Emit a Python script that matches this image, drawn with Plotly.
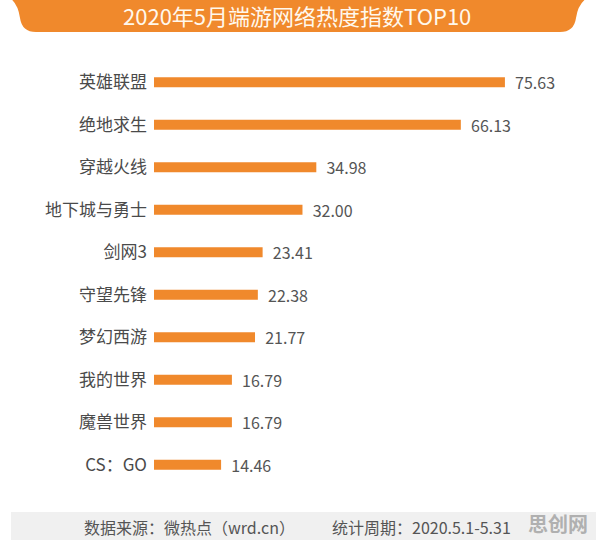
import plotly.graph_objects as go

games = ["英雄联盟", "绝地求生", "穿越火线", "地下城与勇士", "剑网3", "守望先锋", "梦幻西游", "我的世界", "魔兽世界", "CS：GO"]
values = [75.63, 66.13, 34.98, 32.00, 23.41, 22.38, 21.77, 16.79, 16.79, 14.46]
title_text = "2020年5月端游网络热度指数TOP10"
source_text = "数据来源：微热点（wrd.cn）"
period_text = "统计周期：2020.5.1-5.31"
watermark = "思创网"

W, H = 596, 540
L, R, T, B = 154, 0, 61, 54
ORANGE = "#F0892C"
FONT = "Noto Sans CJK SC"

pw, ph = W - L - R, H - T - B
def px(x):
    return (x - L) / pw
def py(y):
    return (H - B - y) / ph

fig = go.Figure(go.Bar(
    x=values, y=games, orientation="h",
    marker=dict(color=ORANGE, line=dict(width=0)),
    width=0.23,
    text=[f"{v:.2f}" for v in values],
    texttemplate="  %{text}",
    textposition="outside",
    constraintext="none",
    textfont=dict(family=FONT, size=16, color="#555555"),
    cliponaxis=False,
))

path = (f"M {px(10)},{py(-2)} L {px(587)},{py(-2)} "
        f"Q {px(578)},{py(4)} {px(576)},{py(18)} "
        f"Q {px(574)},{py(32)} {px(560)},{py(32)} "
        f"L {px(36)},{py(32)} "
        f"Q {px(22)},{py(32)} {px(20)},{py(18)} "
        f"Q {px(18)},{py(4)} {px(10)},{py(-2)} Z")
shapes = [
    dict(type="path", xref="paper", yref="paper", path=path,
         fillcolor=ORANGE, line=dict(width=0), layer="below"),
    dict(type="rect", xref="paper", yref="paper",
         x0=px(11), x1=px(597), y0=py(512), y1=py(541),
         fillcolor="#F0F0F0", line=dict(width=0), layer="below"),
]

annotations = [
    dict(text=title_text, x=px(297), y=py(15), xref="paper", yref="paper",
         showarrow=False, font=dict(family=FONT, size=22, color="#FFF8EC"),
         xanchor="center", yanchor="middle"),
    dict(text=source_text, x=px(82), y=py(527), xref="paper", yref="paper",
         showarrow=False, font=dict(family=FONT, size=16, color="#555555"),
         xanchor="left", yanchor="middle"),
    dict(text=period_text, x=px(330), y=py(527), xref="paper", yref="paper",
         showarrow=False, font=dict(family=FONT, size=16, color="#555555"),
         xanchor="left", yanchor="middle"),
    dict(text=f"<b>{watermark}</b>", x=px(558), y=py(523), xref="paper", yref="paper",
         showarrow=False, font=dict(family=FONT, size=20, color="#B0B0B0"),
         xanchor="center", yanchor="middle"),
]

fig.update_layout(
    width=W, height=H,
    margin=dict(l=L, r=R, t=T, b=B, autoexpand=False),
    paper_bgcolor="white", plot_bgcolor="white",
    showlegend=False,
    xaxis=dict(range=[0, pw / 4.64], visible=False, fixedrange=True),
    yaxis=dict(categoryorder="array", categoryarray=games, autorange=False,
               range=[9.5, -0.5], showgrid=False, zeroline=False, showline=False,
               ticks="", ticklabelstandoff=6, fixedrange=True,
               tickfont=dict(family=FONT, size=17, color="#4A4A4A")),
    shapes=shapes, annotations=annotations,
)

fig.write_html("out.html", config={"displayModeBar": False},
               post_script="document.body.style.margin='0';document.body.style.overflow='hidden';")
